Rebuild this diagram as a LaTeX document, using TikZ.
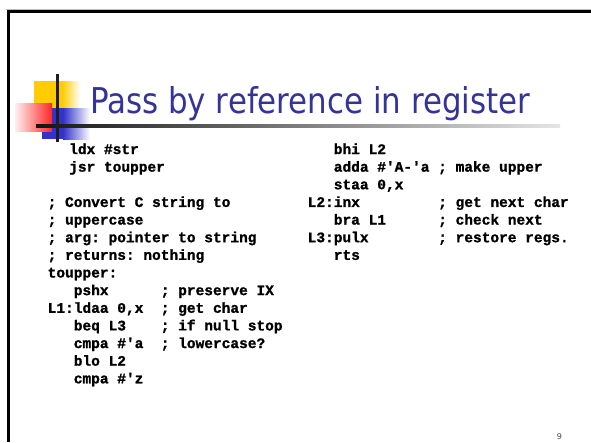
\documentclass[tikz,border=0pt]{standalone}
\usepackage{fontspec}
\setmainfont{DejaVu Sans}
\setmonofont{Liberation Mono}[BoldFeatures={FakeBold=1.2}]
\definecolor{titleblue}{HTML}{333399}
\definecolor{logoyellow}{HTML}{FFCC00}
\definecolor{logoblue}{HTML}{3333CC}
\definecolor{logored}{HTML}{FF2626}
\newcommand\codeln[1]{\hbox{#1}}
\tikzset{
  code/.style={inner sep=0pt, anchor=base west,
    font=\ttfamily\bfseries\fontsize{14.5pt}{17.64pt}\selectfont},
}
\begin{document}
\begin{tikzpicture}[x=1pt,y=-1pt]
\useasboundingbox (0,0) rectangle (591,442);
\fill[white] (0,0) rectangle (591,442);
% slide frame
\draw[black!25, line width=0.8pt] (6,9.2) -- (591,9.2);
\draw[black, line width=3pt, line join=miter] (8.5,442) -- (8.5,11.5) -- (591,11.5);
% title bullet squares
\fill[logoyellow] (34,81) rectangle (62,108);
\shade[left color=logoyellow, right color=white] (62,81) rectangle (80,108);
\fill[logoblue] (42,108) rectangle (63,139);
\shade[left color=logoblue, right color=white] (63,108) rectangle (90,139);
\shade[left color=red!6, right color=logored] (15,103) rectangle (52,131);
% rule under the title
\shade[left color=black!92, right color=black!10] (36,124.8) rectangle (560,127.6);
\fill[black!88] (56,74) rectangle (58.5,142);
% title
\node[anchor=base west, inner sep=0pt, text=titleblue] (title) at (90,113)
  {\resizebox{440pt}{27pt}{\fontsize{36pt}{40pt}\selectfont Pass by reference in register}};
% code, left column
\node[code] (leftcode) at (47.5,154) {\frenchspacing\vtop{\baselineskip=17.64pt
  \codeln{\kern21.5pt ldx~\#str}
  \codeln{\kern21.5pt jsr~toupper}
  \codeln{}
  \codeln{;~Convert~C~string~to}
  \codeln{;~uppercase}
  \codeln{;~arg:~pointer~to~string}
  \codeln{;~returns:~nothing}
  \codeln{toupper:}
  \codeln{~~~pshx~~~~~~;~preserve~IX}
  \codeln{L1:ldaa~0,x~~;~get~char}
  \codeln{~~~beq~L3~~~~;~if~null~stop}
  \codeln{~~~cmpa~\#'a~~;~lowercase?}
  \codeln{~~~blo~L2}
  \codeln{~~~cmpa~\#'z}}};
% code, right column
\node[code] (rightcode) at (307.5,154) {\frenchspacing\vtop{\baselineskip=17.64pt
  \codeln{~~~bhi~L2}
  \codeln{~~~adda~\#'A-'a~;~make~upper}
  \codeln{~~~staa~0,x}
  \codeln{L2:inx~~~~~~~~~;~get~next~char}
  \codeln{~~~bra~L1~~~~~~;~check~next}
  \codeln{L3:pulx~~~~~~~~;~restore~regs.}
  \codeln{~~~rts}}};
% page number
\node[inner sep=0pt, anchor=base, text=black!70, font=\fontsize{8pt}{8pt}\selectfont] (pnum) at (559.5,439) {9};
\end{tikzpicture}
\end{document}
